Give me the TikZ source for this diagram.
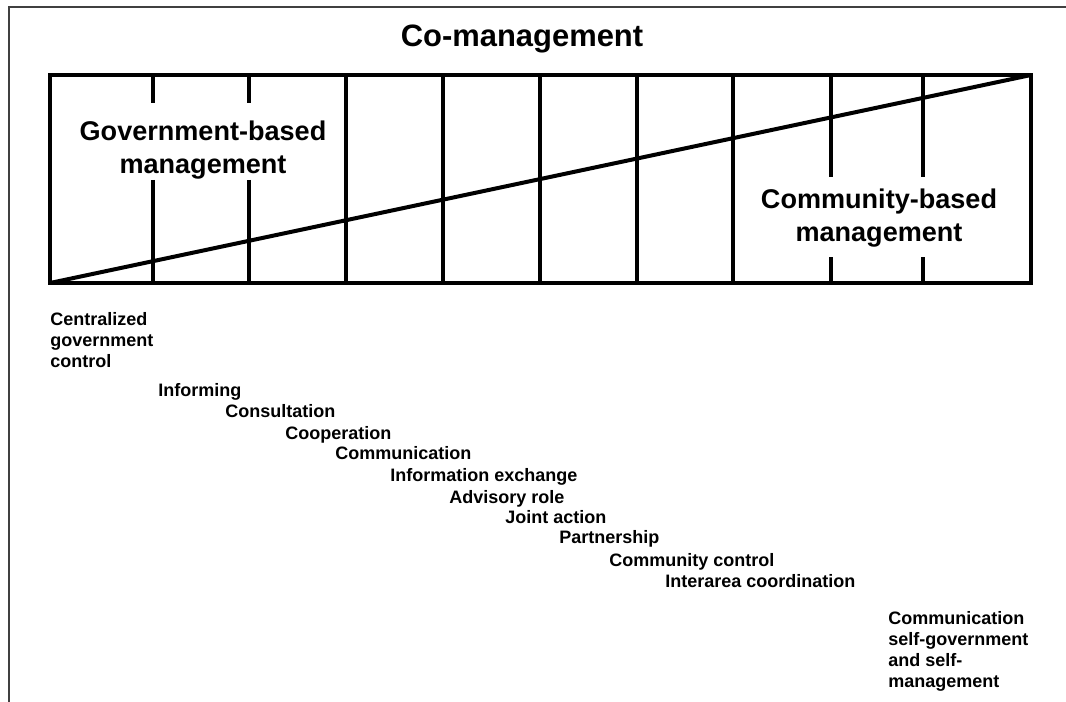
\documentclass[tikz,border=0pt]{standalone}
\usepackage{fontspec}
\setmainfont{Liberation Sans}
\usepackage{tikz}
\usetikzlibrary{positioning}
\tikzset{
  stage/.style={font=\bfseries\fontsize{13.5}{15.75}\selectfont,
    inner sep=0pt, align=left},
  side/.style={font=\bfseries\fontsize{20.3}{24.5}\selectfont,
    inner sep=0pt, align=center}}

\begin{document}
\begin{tikzpicture}[x=0.75pt, y=-0.75pt,
      box/.style={line width=3.4pt},
      divider/.style={line width=2.6pt},
      slope/.style={line width=3pt}]

    \useasboundingbox (0,0) rectangle (1066,702);
    \draw[line width=1.5pt, black!75] (1066,7) -- (9,7) -- (9,702);

    \node[font=\bfseries\fontsize{23.2}{27}\selectfont, inner sep=0pt, anchor=base]
      (Title) at (522,47) {Co-management};

    \coordinate (BL) at (50,283);
    \coordinate (TR) at (1031,75);

    % dividers
    \foreach \x in {346,443,540,637,733}
      \draw[divider] (\x,75) -- (\x,283);
    \foreach \x/\a/\b in {153/103/180, 249/103/180, 831/177/257, 923/177/257} {
      \draw[divider] (\x,75) -- (\x,\a);
      \draw[divider] (\x,\b) -- (\x,283);
    }
    \draw[box] (BL) rectangle (TR);
    \draw[slope] (BL) -- (TR);

    \node[side, anchor=north]
      (Gov) at (203,121) {Government-based\\management};
    \node[side, anchor=north]
      (Com) at (879,189) {Community-based\\management};

    \node[stage, anchor=north west]
      (Central) at (50,312.5) {Centralized\\government\\control};
    \node[stage, anchor=base west]
      (Informing) at (158,396) {Informing};
    \node[stage, anchor=base west]
      (Consult) at (225,417) {Consultation};
    \node[stage, anchor=base west]
      (Coop) at (285,439) {Cooperation};
    \node[stage, anchor=base west]
      (Comm) at (335,459) {Communication};
    \node[stage, anchor=base west]
      (Exchange) at (390,481) {Information exchange};
    \node[stage, anchor=base west]
      (Advisory) at (449,503) {Advisory role};
    \node[stage, anchor=base west]
      (Joint) at (505,523) {Joint action};
    \node[stage, anchor=base west]
      (Partner) at (559,543) {Partnership};
    \node[stage, anchor=base west]
      (Control) at (609,566) {Community control};
    \node[stage, anchor=base west]
      (Interarea) at (665,587) {Interarea coordination};
    \node[stage, anchor=north west]
      (Self) at (888,611.5) {Communication\\self-government\\and self-\\management};

  \end{tikzpicture}
\end{document}
